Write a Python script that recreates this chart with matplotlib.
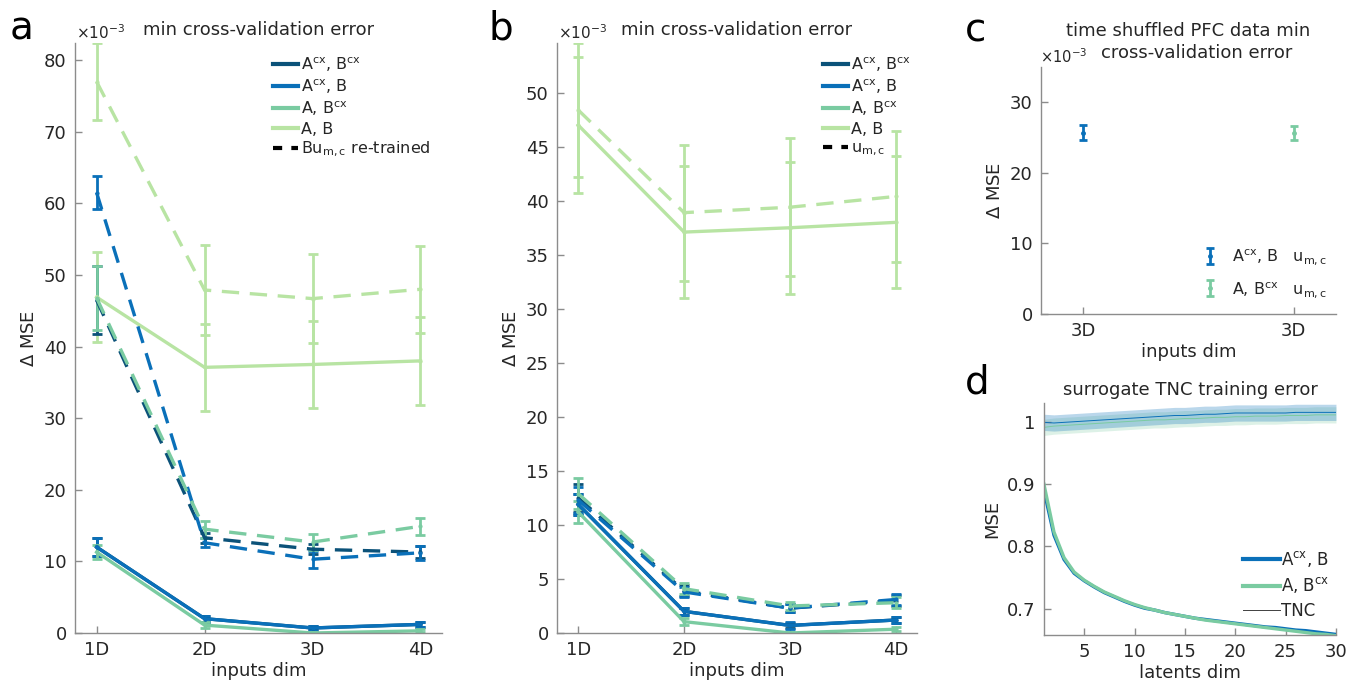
import matplotlib
matplotlib.use("Agg")
import matplotlib.pyplot as plt
from matplotlib.lines import Line2D
import numpy as np

plt.rcParams['font.family'] = ['DejaVu Sans']
plt.rcParams['mathtext.fontset'] = 'dejavusans'

# ---------------- data ----------------
dims = [1, 2, 3, 4]
dim_labels = ['1D', '2D', '3D', '4D']
series_names = ['A$^{\\mathrm{cx}}$, B$^{\\mathrm{cx}}$', 'A$^{\\mathrm{cx}}$, B',
                'A, B$^{\\mathrm{cx}}$', 'A, B']

# panel a (units of 1e-3)
a_solid_AcxBcx = [12.0, 2.0, 0.7, 1.2]
a_solid_AcxB = [12.0, 2.0, 0.7, 1.2]
a_solid_ABcx = [11.3, 1.1, 0.0, 0.3]
a_solid_AB = [46.9, 37.1, 37.5, 38.0]
a_solid_AcxBcx_err = [1.3, 0.4, 0.3, 0.3]
a_solid_AcxB_err = [1.3, 0.4, 0.3, 0.3]
a_solid_ABcx_err = [1.0, 0.4, 0.2, 0.2]
a_solid_AB_err = [6.3, 6.1, 6.1, 6.1]

a_dash_AcxBcx = [46.5, 13.3, 11.7, 11.3]
a_dash_AcxB = [61.5, 12.6, 10.3, 11.2]
a_dash_ABcx = [46.8, 14.5, 12.7, 14.9]
a_dash_AB = [77.0, 47.9, 46.7, 48.0]
a_dash_AcxBcx_err = [4.8, 0.7, 0.7, 0.8]
a_dash_AcxB_err = [2.3, 0.6, 1.2, 1.0]
a_dash_ABcx_err = [4.5, 1.2, 1.1, 1.2]
a_dash_AB_err = [5.4, 6.3, 6.2, 6.1]

# panel b (units of 1e-3)
b_solid_AcxBcx = [11.9, 2.0, 0.7, 1.2]
b_solid_AcxB = [11.9, 2.0, 0.7, 1.2]
b_solid_ABcx = [11.2, 1.05, 0.0, 0.35]
b_solid_AB = [47.0, 37.1, 37.5, 38.0]
b_solid_AcxBcx_err = [1.0, 0.3, 0.2, 0.3]
b_solid_AcxB_err = [1.0, 0.3, 0.3, 0.3]
b_solid_ABcx_err = [1.0, 0.3, 0.1, 0.2]
b_solid_AB_err = [6.3, 6.1, 6.1, 6.1]

b_dash_AcxBcx = [12.5, 3.9, 2.3, 3.0]
b_dash_AcxB = [12.3, 3.8, 2.3, 3.1]
b_dash_ABcx = [12.9, 4.1, 2.5, 2.8]
b_dash_AB = [48.4, 38.9, 39.4, 40.4]
b_dash_AcxBcx_err = [1.3, 0.5, 0.4, 0.5]
b_dash_AcxB_err = [1.2, 0.5, 0.4, 0.5]
b_dash_ABcx_err = [1.4, 0.5, 0.4, 0.5]
b_dash_AB_err = [6.2, 6.3, 6.4, 6.1]

# panel c (units of 1e-3)
c_pos = [1, 2]
c_labels = ['3D', '3D']
c_vals = [25.7, 25.7]
c_errs = [1.1, 1.0]

# panel d
latents = list(range(1, 31))
d_AcxB = [0.890, 0.818, 0.779, 0.757, 0.745, 0.735, 0.726, 0.719, 0.712, 0.706,
          0.701, 0.698, 0.694, 0.691, 0.688, 0.685, 0.683, 0.681, 0.679, 0.677,
          0.675, 0.673, 0.671, 0.670, 0.668, 0.666, 0.665, 0.663, 0.661, 0.659]
d_ABcx = [0.900, 0.823, 0.782, 0.759, 0.746, 0.736, 0.727, 0.720, 0.713, 0.707,
          0.702, 0.698, 0.694, 0.691, 0.688, 0.685, 0.682, 0.680, 0.678, 0.676,
          0.674, 0.672, 0.670, 0.668, 0.666, 0.664, 0.662, 0.660, 0.659, 0.657]
d_tnc_AcxB = [0.999, 0.998, 0.999, 1.000, 1.001, 1.002, 1.003, 1.004, 1.005, 1.006,
              1.007, 1.008, 1.009, 1.010, 1.010, 1.011, 1.012, 1.012, 1.013, 1.014,
              1.014, 1.014, 1.014, 1.014, 1.014, 1.015, 1.015, 1.015, 1.015, 1.015]
d_tnc_ABcx = [0.991, 0.993, 0.994, 0.995, 0.996, 0.997, 0.998, 0.999, 1.000, 1.001,
              1.002, 1.003, 1.003, 1.004, 1.005, 1.005, 1.006, 1.007, 1.007, 1.008,
              1.008, 1.009, 1.009, 1.009, 1.010, 1.010, 1.010, 1.011, 1.011, 1.011]
d_tnc_AcxB_sd = [0.013] * 30
d_tnc_ABcx_sd = [0.013] * 30

# ---------------- style ----------------
C_DARK = '#0b5279'
C_BLUE = '#0a70b9'
C_GREEN = '#7acba1'
C_LIGHT = '#b8e4a3'
colors = [C_DARK, C_BLUE, C_GREEN, C_LIGHT]
TXT = '#262626'
AXC = '#8c8c8c'
LW = 2.4
DASH = (0, (5.2, 3.2))

fig = plt.figure(figsize=(13.47, 6.81), dpi=100)


def style_ax(ax):
    for s in ['top', 'right']:
        ax.spines[s].set_visible(False)
    for s in ['left', 'bottom']:
        ax.spines[s].set_color(AXC)
        ax.spines[s].set_linewidth(1.0)
    ax.tick_params(direction='in', length=5, width=1.0, color=AXC,
                   labelsize=13, labelcolor=TXT, pad=6)


def draw_panel(ax, solids, solid_errs, dashes, dash_errs):
    for vals, errs, col in zip(solids, solid_errs, colors):
        ax.errorbar(dims, vals, yerr=errs, color=col, lw=LW, elinewidth=2.0,
                    capsize=3.5, capthick=2.0, marker='.', ms=4)
    for vals, errs, col in zip(dashes, dash_errs, colors):
        ax.errorbar(dims, vals, yerr=errs, color=col, lw=LW, ls=DASH, elinewidth=2.0,
                    capsize=3.5, capthick=2.0, marker='.', ms=4)
    ax.set_xlim(0.8, 4.2)
    ax.set_xticks(dims)
    ax.set_xticklabels(dim_labels)
    ax.set_xlabel('inputs dim', fontsize=13, color=TXT, labelpad=2)
    ax.set_ylabel('$\\Delta$ MSE', fontsize=13, color=TXT, labelpad=4)
    ax.set_title('min cross-validation error', fontsize=13, color=TXT, pad=6)


def legend_handles(last_label):
    hs = [Line2D([], [], color=c, lw=3) for c in colors]
    hs.append(Line2D([], [], color='black', lw=3, ls=(0, (2.2, 2.2))))
    return hs, series_names + [last_label]


LEG_KW = dict(loc='upper right', frameon=False, fontsize=11.5, handlelength=1.6,
              handletextpad=0.15, labelspacing=0.22, labelcolor=TXT, borderaxespad=0.0)

# panel a
axa = fig.add_axes([0.0557, 0.0705, 0.2725, 0.8664])
style_ax(axa)
draw_panel(axa,
           [a_solid_AcxBcx, a_solid_AcxB, a_solid_ABcx, a_solid_AB],
           [a_solid_AcxBcx_err, a_solid_AcxB_err, a_solid_ABcx_err, a_solid_AB_err],
           [a_dash_AcxBcx, a_dash_AcxB, a_dash_ABcx, a_dash_AB],
           [a_dash_AcxBcx_err, a_dash_AcxB_err, a_dash_ABcx_err, a_dash_AB_err])
axa.set_ylim(0, 82.4)
axa.set_yticks([0, 10, 20, 30, 40, 50, 60, 70, 80])
hs, ls = legend_handles('Bu$_{\\mathrm{m,c}}$ re-trained')
axa.legend(hs, ls, bbox_to_anchor=(0.985, 0.99), **LEG_KW)

# panel b
axb = fig.add_axes([0.4135, 0.0705, 0.2673, 0.8664])
style_ax(axb)
draw_panel(axb,
           [b_solid_AcxBcx, b_solid_AcxB, b_solid_ABcx, b_solid_AB],
           [b_solid_AcxBcx_err, b_solid_AcxB_err, b_solid_ABcx_err, b_solid_AB_err],
           [b_dash_AcxBcx, b_dash_AcxB, b_dash_ABcx, b_dash_AB],
           [b_dash_AcxBcx_err, b_dash_AcxB_err, b_dash_ABcx_err, b_dash_AB_err])
axb.set_ylim(0, 54.6)
axb.set_yticks([0, 5, 10, 15, 20, 25, 30, 35, 40, 45, 50])
hs, ls = legend_handles('u$_{\\mathrm{m,c}}$')
axb.legend(hs, ls, bbox_to_anchor=(1.0, 0.99), **LEG_KW)

# panel c
axc = fig.add_axes([0.7728, 0.5389, 0.219, 0.3627])
style_ax(axc)
e1 = axc.errorbar([c_pos[0]], [c_vals[0]], yerr=[c_errs[0]], color=C_BLUE, lw=2,
                  elinewidth=2, capsize=3, capthick=2, marker='.', ms=5, ls='none')
e2 = axc.errorbar([c_pos[1]], [c_vals[1]], yerr=[c_errs[1]], color=C_GREEN, lw=2,
                  elinewidth=2, capsize=3, capthick=2, marker='.', ms=5, ls='none')
axc.set_xlim(0.8, 2.2)
axc.set_ylim(0, 35)
axc.set_yticks([0, 10, 20, 30])
axc.set_xticks(c_pos)
axc.set_xticklabels(c_labels)
axc.set_xlabel('inputs dim', fontsize=13, color=TXT, labelpad=2)
axc.set_ylabel('$\\Delta$ MSE', fontsize=13, color=TXT, labelpad=4)
axc.text(0.5, 1.0 + 36 / 247, 'time shuffled PFC data min', transform=axc.transAxes,
         ha='center', va='center', fontsize=13, color=TXT)
axc.text(0.5 + 8 / 295, 1.0 + 14 / 247, 'cross-validation error', transform=axc.transAxes,
         ha='center', va='center', fontsize=13, color=TXT)
axc.legend([e1, e2], ['A$^{\\mathrm{cx}}$, B   u$_{\\mathrm{m,c}}$',
                      'A, B$^{\\mathrm{cx}}$   u$_{\\mathrm{m,c}}$'],
           loc='lower right', bbox_to_anchor=(1.02, 0.0), frameon=False, fontsize=11.5,
           handlelength=1.2, labelcolor=TXT, labelspacing=0.8)

# panel d
axd = fig.add_axes([0.775, 0.0675, 0.2168, 0.3407])
style_ax(axd)
lo1 = np.array(d_tnc_AcxB) - np.array(d_tnc_AcxB_sd)
hi1 = np.array(d_tnc_AcxB) + np.array(d_tnc_AcxB_sd)
lo2 = np.array(d_tnc_ABcx) - np.array(d_tnc_ABcx_sd)
hi2 = np.array(d_tnc_ABcx) + np.array(d_tnc_ABcx_sd)
axd.fill_between(latents, lo2, hi2, color=C_GREEN, alpha=0.25, lw=0)
axd.fill_between(latents, lo1, hi1, color=C_BLUE, alpha=0.28, lw=0)
axd.plot(latents, d_tnc_ABcx, color=C_GREEN, lw=0.7)
axd.plot(latents, d_tnc_AcxB, color=C_BLUE, lw=0.7)
axd.plot(latents, d_AcxB, color=C_BLUE, lw=2.4)
axd.plot(latents, d_ABcx, color=C_GREEN, lw=2.4)
axd.set_xlim(1, 30)
axd.set_ylim(0.658, 1.03)
axd.set_xticks([5, 10, 15, 20, 25, 30])
axd.set_yticks([0.7, 0.8, 0.9, 1.0])
axd.set_yticklabels(['0.7', '0.8', '0.9', '1'])
axd.set_xlabel('latents dim', fontsize=13, color=TXT, labelpad=2)
axd.set_ylabel('MSE', fontsize=13, color=TXT, labelpad=4)
axd.set_title('surrogate TNC training error', fontsize=13, color=TXT, pad=6)
l3 = Line2D([], [], color='#404040', lw=0.7)
axd.legend([Line2D([], [], color=C_BLUE, lw=3), Line2D([], [], color=C_GREEN, lw=3), l3],
           ['A$^{\\mathrm{cx}}$, B', 'A, B$^{\\mathrm{cx}}$', 'TNC'],
           loc='lower right', bbox_to_anchor=(1.03, 0.0), frameon=False, fontsize=12,
           handlelength=2.2, handletextpad=0.1, labelspacing=0.4, labelcolor=TXT)

# multipliers
fig.text(76 / 1347, 1 - 33 / 681, '$\\times$10$^{-3}$', fontsize=11, color=TXT,
         va='center', ha='left')
fig.text(558 / 1347, 1 - 33 / 681, '$\\times$10$^{-3}$', fontsize=11, color=TXT,
         va='center', ha='left')
fig.text(1040 / 1347, 1 - 57 / 681, '$\\times$10$^{-3}$', fontsize=10.5, color=TXT,
         va='center', ha='left')

# panel letters
for x, y, s in [(10, 28, 'a'), (488, 28, 'b'), (965, 30, 'c'), (965, 383, 'd')]:
    fig.text(x / 1347, 1 - y / 681, s, fontsize=28, color='black', va='center', ha='left')

fig.savefig('out.png', dpi=100)
